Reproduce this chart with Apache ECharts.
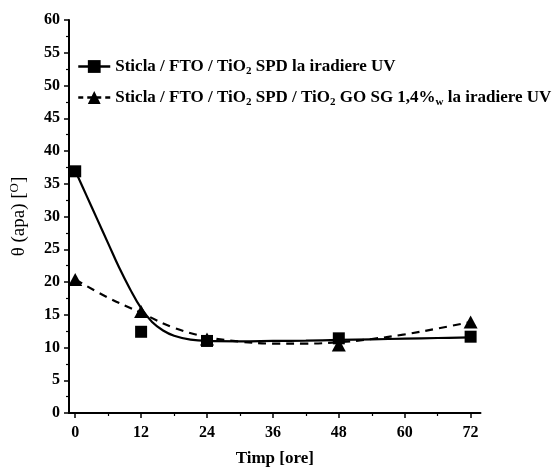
<!DOCTYPE html>
<html>
<head>
<meta charset="utf-8">
<script src="https://cdn.jsdelivr.net/npm/echarts@6/dist/echarts.min.js"></script>
<style>html,body{margin:0;padding:0;background:#fff;}#c{width:554px;height:472px;}</style>
</head>
<body>
<div id="c"></div>
<script>
// Measured points
const timeHours = [0, 12, 24, 48, 72];
const sprayValues = [36.9, 12.4, 11.0, 11.4, 11.65];      // squares
const sprayGoValues = [20.4, 15.5, 11.3, 10.4, 13.9];     // triangles
// Fitted curves
const fitX1 = [0, 2, 4, 6, 8, 10, 12, 14, 16, 18, 21, 24, 30, 36, 42, 48, 54, 60, 66, 72];
const sprayFit = [37.0, 33.3, 29.6, 25.9, 22.2, 18.9, 16.0, 13.9, 12.6, 11.8, 11.2, 11.0, 10.95, 11.0, 11.05, 11.15, 11.25, 11.35, 11.45, 11.55];
const fitX2 = [0, 6, 12, 18, 24, 30, 36, 42, 48, 54, 60, 66, 72];
const sprayGoFit = [20.4, 17.6, 15.3, 13.0, 11.6, 10.9, 10.6, 10.6, 10.8, 11.3, 12.0, 12.9, 13.9];
const xMajorTicks = [0, 12, 24, 36, 48, 60, 72];
const xMinorTicks = [6, 18, 30, 42, 54, 66];
const seriesNames = ['Sticla / FTO / TiO2 SPD la iradiere UV', 'Sticla / FTO / TiO2 SPD / TiO2 GO SG 1,4%w la iradiere UV'];
const legendLabels = ['Sticla / FTO / TiO{sub|2} SPD la iradiere UV', 'Sticla / FTO / TiO{sub|2} SPD / TiO{sub|2} GO SG 1,4%{sub|w} la iradiere UV'];

const font = '"Liberation Serif", "Times New Roman", serif';
const zip = (xs, ys) => xs.map((x, i) => [x, ys[i]]);

const chart = echarts.init(document.getElementById('c'), null, {renderer: 'canvas'});
chart.setOption({
  animation: false,
  backgroundColor: '#fff',
  grid: {left: 68.5, right: 73.5, top: 20, bottom: 56.5, containLabel: false},
  legend: {
    orient: 'vertical', left: 72, top: 53, itemGap: 12, itemWidth: 32, itemHeight: 16,
    data: [
      {name: seriesNames[0], lineStyle: {opacity: 1, width: 2.5, type: 'solid', color: '#000'}},
      {name: seriesNames[1], lineStyle: {opacity: 1, width: 2.5, type: [5, 4], color: '#000'}}
    ],
    formatter: n => legendLabels[seriesNames.indexOf(n)],
    textStyle: {
      fontFamily: font, fontWeight: 'bold', fontSize: 17, color: '#000',
      rich: {sub: {fontFamily: font, fontWeight: 'bold', fontSize: 11, color: '#000', padding: [10, 0, 0, 0]}}
    }
  },
  xAxis: [{
    type: 'value', min: -1.13, max: 73.8, position: 'bottom',
    name: 'Timp [ore]', nameLocation: 'middle', nameGap: 37,
    nameTextStyle: {fontFamily: font, fontWeight: 'bold', fontSize: 17, color: '#000'},
    axisLine: {show: true, onZero: false, lineStyle: {color: '#000', width: 2}},
    axisTick: {show: true, customValues: xMajorTicks, length: 5, lineStyle: {color: '#000', width: 1.5}},
    axisLabel: {customValues: xMajorTicks, margin: 12, fontFamily: font, fontWeight: 'bold', fontSize: 16, color: '#000'},
    splitLine: {show: false}
  }, {
    type: 'value', min: -1.13, max: 73.8, position: 'bottom',
    axisLine: {show: false},
    axisTick: {show: true, customValues: xMinorTicks, length: 3, lineStyle: {color: '#000', width: 1.2}},
    axisLabel: {show: false},
    splitLine: {show: false}
  }],
  yAxis: {
    type: 'value', min: 0, max: 60, interval: 5,
    name: 'θ (apa) [{sup|O}]', nameLocation: 'middle', nameGap: 39, nameRotate: 90,
    nameTextStyle: {fontFamily: font, fontSize: 19, color: '#000',
      rich: {sup: {fontFamily: font, fontSize: 13, color: '#000', padding: [0, 0, 9, 0]}}},
    axisLine: {show: true, onZero: false, lineStyle: {color: '#000', width: 2}},
    axisTick: {show: true, length: 5, lineStyle: {color: '#000', width: 1.5}},
    minorTick: {show: true, splitNumber: 2, length: 3, lineStyle: {color: '#000', width: 1.2}},
    axisLabel: {margin: 9, fontFamily: font, fontWeight: 'bold', fontSize: 16, color: '#000'},
    splitLine: {show: false}
  },
  series: [
    {name: 'fit1', type: 'line', smooth: 0.4, showSymbol: false, symbol: 'none', data: zip(fitX1, sprayFit),
      lineStyle: {color: '#000', width: 2.2}, z: 2, silent: true},
    {name: 'fit2', type: 'line', smooth: 0.4, showSymbol: false, symbol: 'none', data: zip(fitX2, sprayGoFit),
      lineStyle: {color: '#000', width: 2.2, type: [8, 6]}, z: 2, silent: true},
    {name: seriesNames[0], type: 'line', symbol: 'rect', symbolSize: 12, data: zip(timeHours, sprayValues),
      itemStyle: {color: '#000'}, lineStyle: {opacity: 0, color: '#000'}, z: 3},
    {name: seriesNames[1], type: 'line', symbol: 'triangle', symbolSize: [14, 13], data: zip(timeHours, sprayGoValues),
      itemStyle: {color: '#000'}, lineStyle: {opacity: 0, color: '#000'}, z: 4}
  ]
});
</script>
</body>
</html>
